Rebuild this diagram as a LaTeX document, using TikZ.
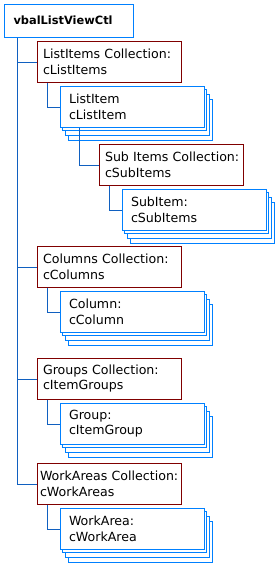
\documentclass[tikz,border=0pt]{standalone}
\usepackage{fontspec}
\setmainfont{DejaVu Sans}
\hyphenpenalty=10000
\definecolor{boxblue}{RGB}{0,128,255}
\definecolor{linkblue}{RGB}{16,96,192}
\definecolor{collred}{RGB}{128,0,0}
\tikzset{
  rootbox/.style={draw=boxblue, line width=1pt, anchor=north west, minimum width=129pt, minimum height=33pt,
    inner xsep=9.5pt, text width=110pt, align=left, font=\fontsize{11.4}{14}\selectfont\bfseries},
  collbox/.style={draw=collred, fill=white, line width=1pt, anchor=north west, minimum height=41pt,
    inner xsep=6pt, text width=132pt, align=left, font=\fontsize{12.6}{15.7}\selectfont},
  itembox/.style={draw=boxblue, fill=white, line width=1pt, anchor=north west, minimum height=41pt,
    inner xsep=9pt, text width=126pt, align=left, font=\fontsize{12.6}{15.7}\selectfont},
  layer/.style={draw=boxblue, fill=white, line width=1pt},
  link/.style={draw=linkblue, line width=1pt},
}
% stack of item boxes: name, x, y, text
\newcommand{\itemstack}[4]{%
  \foreach \dx/\dy in {9/14, 6/9, 3/4}
    \draw[layer] (#2+\dx, #3+\dy) rectangle ++(144, 41);
  \node[itembox] (#1) at (#2, #3) {#4};
}
\begin{document}
\begin{tikzpicture}[x=1pt, y=-1pt]
  \useasboundingbox (0,0) rectangle (278,570);

  % Control
  \node[rootbox] (ctl) at (3.5,3.5) {vbalListViewCtl};

  % Collections
  \node[collbox] (listcoll) at (36.5,40.5) {ListItems~Collection:\\cListItems};
  \node[collbox] (subcoll) at (98.5,143.5) {Sub~Items~Collection:\\cSubItems};
  \node[collbox] (colcoll) at (36.5,245.5) {Columns~Collection:\\cColumns};
  \node[collbox] (grpcoll) at (36.5,357.5) {Groups~Collection:\\cItemGroups};
  \node[collbox, inner xsep=3pt, text width=138pt] (wacoll) at (36.5,462.5) {WorkAreas~Collection:\\cWorkAreas};

  % Items
  \itemstack{listitem}{59.5}{85.5}{ListItem\\cListItem}
  \itemstack{subitem}{121.5}{188.5}{SubItem:\\cSubItems}
  \itemstack{column}{59.5}{290.5}{Column:\\cColumn}
  \itemstack{group}{59.5}{402.5}{Group:\\cItemGroup}
  \itemstack{workarea}{59.5}{507.5}{WorkArea:\\cWorkArea}

  % Tree lines
  \coordinate (trunk) at ([xshift=14pt]ctl.south west);
  \foreach \n in {listcoll, subcoll, colcoll, grpcoll, wacoll, listitem, subitem, column, group, workarea}
    \coordinate (\n-in) at ([yshift=-0.5pt]\n.west);
  \draw[link] (trunk) |- (wacoll-in);
  \foreach \coll in {listcoll, colcoll, grpcoll}
    \draw[link] (trunk |- \coll-in) -- (\coll-in);

  \draw[link] ([xshift=11pt]listcoll.south west) |- (listitem-in);
  \draw[link] ([xshift=20pt]listitem.south west) |- (subcoll-in);
  \draw[link] ([xshift=11pt]subcoll.south west) |- (subitem-in);
  \draw[link] ([xshift=11pt]colcoll.south west) |- (column-in);
  \draw[link] ([xshift=11pt]grpcoll.south west) |- (group-in);
  \draw[link] ([xshift=11pt]wacoll.south west) |- (workarea-in);
\end{tikzpicture}
\end{document}
